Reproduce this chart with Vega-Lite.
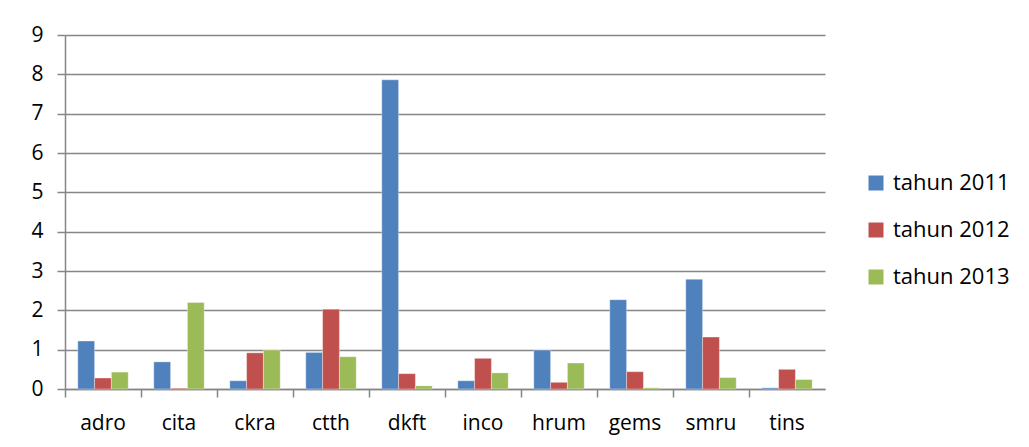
{
  "$schema": "https://vega.github.io/schema/vega-lite/v6.json",
  "autosize": {"type": "none"},
  "padding": {"left": 65, "top": 35, "right": 204, "bottom": 58},
  "width": 760,
  "height": 354,
  "background": "white",
  "data": {
    "values": [
      {"kode": "adro", "tahun": "tahun 2011", "nilai": 1.22},
      {"kode": "adro", "tahun": "tahun 2012", "nilai": 0.28},
      {"kode": "adro", "tahun": "tahun 2013", "nilai": 0.43},
      {"kode": "cita", "tahun": "tahun 2011", "nilai": 0.69},
      {"kode": "cita", "tahun": "tahun 2012", "nilai": 0.02},
      {"kode": "cita", "tahun": "tahun 2013", "nilai": 2.2},
      {"kode": "ckra", "tahun": "tahun 2011", "nilai": 0.21},
      {"kode": "ckra", "tahun": "tahun 2012", "nilai": 0.92},
      {"kode": "ckra", "tahun": "tahun 2013", "nilai": 0.99},
      {"kode": "ctth", "tahun": "tahun 2011", "nilai": 0.93},
      {"kode": "ctth", "tahun": "tahun 2012", "nilai": 2.03},
      {"kode": "ctth", "tahun": "tahun 2013", "nilai": 0.82},
      {"kode": "dkft", "tahun": "tahun 2011", "nilai": 7.86},
      {"kode": "dkft", "tahun": "tahun 2012", "nilai": 0.39},
      {"kode": "dkft", "tahun": "tahun 2013", "nilai": 0.08},
      {"kode": "inco", "tahun": "tahun 2011", "nilai": 0.21},
      {"kode": "inco", "tahun": "tahun 2012", "nilai": 0.78},
      {"kode": "inco", "tahun": "tahun 2013", "nilai": 0.41},
      {"kode": "hrum", "tahun": "tahun 2011", "nilai": 0.99},
      {"kode": "hrum", "tahun": "tahun 2012", "nilai": 0.17},
      {"kode": "hrum", "tahun": "tahun 2013", "nilai": 0.66},
      {"kode": "gems", "tahun": "tahun 2011", "nilai": 2.27},
      {"kode": "gems", "tahun": "tahun 2012", "nilai": 0.44},
      {"kode": "gems", "tahun": "tahun 2013", "nilai": 0.03},
      {"kode": "smru", "tahun": "tahun 2011", "nilai": 2.79},
      {"kode": "smru", "tahun": "tahun 2012", "nilai": 1.32},
      {"kode": "smru", "tahun": "tahun 2013", "nilai": 0.29},
      {"kode": "tins", "tahun": "tahun 2011", "nilai": 0.03},
      {"kode": "tins", "tahun": "tahun 2012", "nilai": 0.5},
      {"kode": "tins", "tahun": "tahun 2013", "nilai": 0.24}
    ]
  },
  "mark": {"type": "bar", "stroke": "white", "strokeOpacity": 0.35, "strokeWidth": 1},
  "encoding": {
    "x": {
      "field": "kode",
      "type": "nominal",
      "sort": null,
      "title": null,
      "scale": {"paddingInner": 0, "paddingOuter": 0},
      "axis": {
        "bandPosition": 0,
        "labelAngle": 0,
        "labelAlign": "center",
        "labelPadding": 15,
        "tickSize": 8,
        "domainColor": "#868686",
        "domainWidth": 1.5,
        "tickColor": "#868686",
        "tickWidth": 1.5,
        "grid": false
      }
    },
    "xOffset": {
      "field": "tahun",
      "type": "nominal",
      "scale": {"paddingInner": 0, "paddingOuter": 0.76}
    },
    "y": {
      "field": "nilai",
      "type": "quantitative",
      "title": null,
      "scale": {"domain": [0, 9], "nice": false},
      "axis": {
        "values": [0, 1, 2, 3, 4, 5, 6, 7, 8, 9],
        "tickSize": 8,
        "labelPadding": 14,
        "domainColor": "#868686",
        "domainWidth": 1.5,
        "tickColor": "#868686",
        "tickWidth": 1.5,
        "grid": true,
        "gridColor": "#868686",
        "gridWidth": 1.5
      }
    },
    "color": {
      "field": "tahun",
      "type": "nominal",
      "title": null,
      "scale": {
        "domain": ["tahun 2011", "tahun 2012", "tahun 2013"],
        "range": ["#4F81BD", "#C0504D", "#9BBB59"]
      },
      "legend": {
        "orient": "none",
        "legendX": 800,
        "legendY": 137,
        "symbolType": "square",
        "symbolSize": 225,
        "symbolStrokeWidth": 0,
        "labelFontSize": 22,
        "labelOffset": 6,
        "rowPadding": 25
      }
    }
  },
  "config": {
    "font": "Open Sans",
    "view": {"stroke": null},
    "axis": {"labelFontSize": 21, "labelColor": "#000000", "labelFont": "Open Sans"},
    "legend": {"labelColor": "#000000", "labelFont": "Open Sans"}
  }
}
